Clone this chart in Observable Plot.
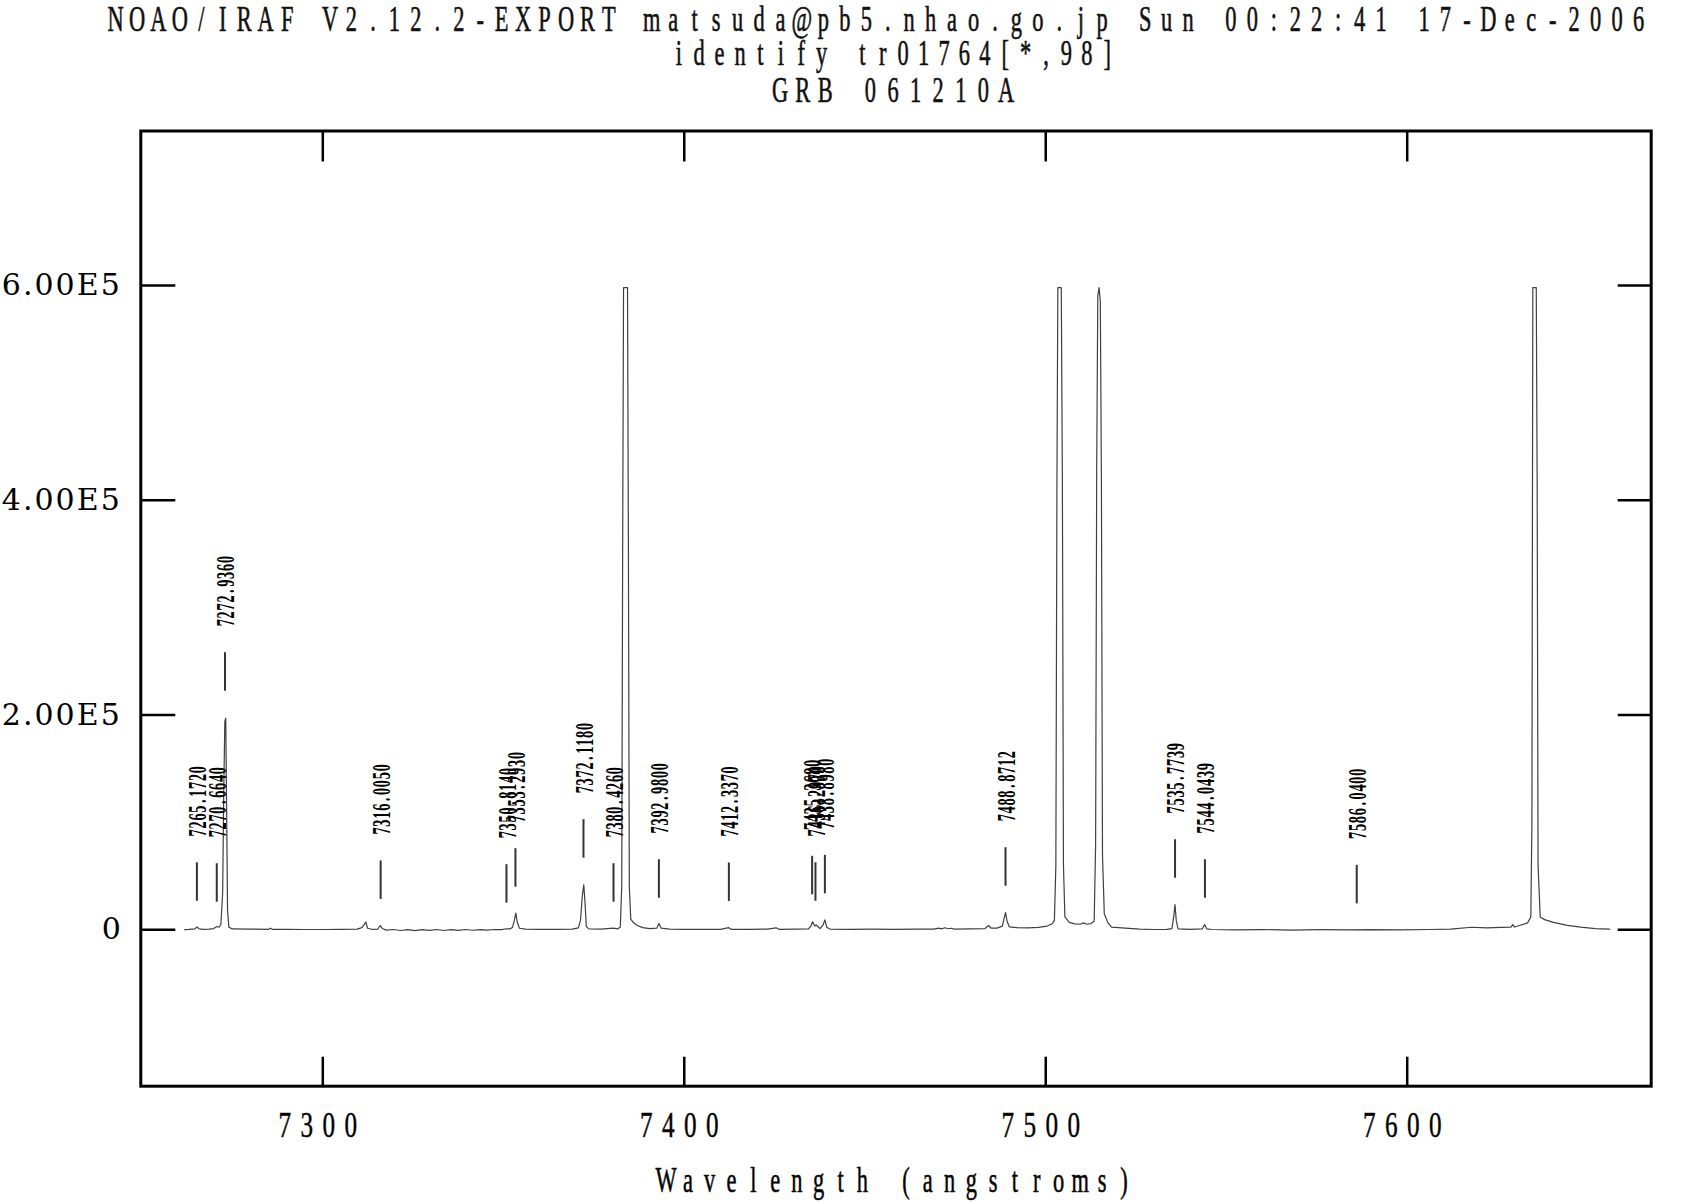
<!DOCTYPE html>
<html><head><meta charset="utf-8">
<script src="https://cdn.jsdelivr.net/npm/d3@7"></script>
<script src="https://cdn.jsdelivr.net/npm/@observablehq/plot@0.6"></script>
<style>
html,body{margin:0;padding:0;background:#fff;overflow:hidden;}
svg{display:block;}
</style></head><body>
<svg id="title" width="1682" height="120"></svg>
<div id="chart"></div>
<script>
// ---- text ----
const titleLines = [
  "NOAO/IRAF V2.12.2-EXPORT matsuda@pb5.nhao.go.jp Sun 00:22:41 17-Dec-2006",
  "identify tr01764[*,98]",
  "GRB 061210A"
];
const xLabel = "Wavelength (angstroms)";
const xTicks = [7300, 7400, 7500, 7600];
const xTickLabels = ["7300", "7400", "7500", "7600"];
const yTicks = [0, 200000, 400000, 600000];
const yTickLabels = ["0", "2.00E5", "4.00E5", "6.00E5"];

// ---- spectrum (wavelength in angstroms, counts) ----
const specW = [7261.8,7263.0,7264.6,7265.2,7265.8,7267.0,7268.5,7269.8,7270.7,7271.3,7271.8,7272.3,7272.6,7272.9,7273.15,7273.4,7273.65,7274.0,7275.0,7280.0,7285.0,7285.5,7286.0,7290.0,7295.0,7300.0,
7305.0,7309.5,7310.8,7311.6,7311.9,7312.4,7313.5,7315.2,7315.9,7316.5,7317.5,7319.5,7321.5,7323.5,7325.5,7327.5,7329.5,7331.5,7333.5,7335.5,7337.5,7339.5,7341.5,7343.5,7345.5,7347.5,7349.5,
7350.8,7351.8,7352.5,7353.0,7353.4,7353.8,7354.4,7356.0,7360.0,7365.0,7369.0,7370.7,7371.3,7371.8,7372.2,7372.6,7372.9,7373.6,7377.0,7380.4,7381.5,7382.3,7382.7,7382.95,7383.2,7384.3,7384.55,7384.8,7385.2,7386.0,7387.0,7388.5,7390.5,7392.4,7393.0,7393.6,7396.0,
7400.0,7405.0,7410.0,7412.3,7413.0,7418.0,7423.0,7425.4,7426.2,7431.0,7434.4,7435.1,7435.5,7436.1,7436.5,7437.6,7438.4,7438.9,7439.4,7440.3,7446.0,7452.0,7458.0,7464.0,7469.0,7470.4,7471.2,7472.1,7473.0,7473.8,7474.7,7479.0,7483.2,7484.2,7484.9,7486.5,7488.0,7488.5,7488.9,7489.3,7489.9,7492.0,7495.0,7498.0,
7500.4,7501.8,7502.4,7502.8,7503.1,7503.35,7504.3,7504.6,7504.9,7505.3,7506.5,7508.0,7509.5,7510.5,7511.2,7512.5,7513.4,7513.8,7514.1,7514.4,7514.75,7515.1,7515.4,7515.7,7516.2,7517.2,7518.2,7522.0,7526.0,7530.0,7533.5,7534.9,7535.4,7535.75,7536.1,7536.6,7540.0,7543.3,7543.95,7544.5,7546.0,7552.0,7560.0,7568.0,7576.0,7584.0,7590.0,7598.0,
7606.0,7612.0,7617.8,7622.0,7626.0,7628.7,7629.2,7629.7,7631.5,7633.3,7634.2,7634.5,7634.75,7635.7,7635.95,7636.2,7636.8,7638.0,7640.5,7644.3,7648.0,7652.0,7656.0];
const specF = [200,400,900,2700,900,400,700,1200,3100,2400,5000,35000,130000,194000,197000,110000,18000,2500,800,600,500,1500,500,400,300,300,
400,700,2000,5500,7200,1500,500,600,4000,1200,-300,300,-600,200,-700,200,-500,300,-600,200,-500,300,-400,100,-300,300,200,
1000,800,2500,9000,15500,7000,1500,600,400,500,700,1800,9000,32000,42000,22000,3000,900,600,1500,900,2500,40000,350000,598000,598000,350000,40000,10000,6500,4000,2000,1200,1500,6000,1500,700,
500,400,500,2000,500,500,600,1900,500,600,900,4000,7500,3500,4500,1200,4500,9300,2500,700,500,600,500,600,700,1600,900,1900,1000,1500,700,800,1200,4000,1500,1600,3500,11000,16000,8000,2800,2000,1900,2300,
3500,5600,9000,60000,420000,598000,598000,420000,60000,12000,7000,5600,5200,6500,5200,5800,8000,80000,430000,590000,598000,585000,420000,70000,15000,6500,2500,1500,700,300,500,1200,12000,23600,9000,800,400,800,4900,900,300,0,200,-200,100,-100,200,0,
300,600,2400,1800,2200,2600,4900,2600,4500,6500,12000,100000,598000,598000,420000,60000,12000,9500,7000,4200,2500,1200,600];

// ---- identified lines ----
const lineWaves = [7265.172,7270.664,7272.936,7316.005,7350.814,7353.293,7372.118,7380.426,7392.98,7412.337,7435.368,7436.297,7438.898,7488.8712,7535.7739,7544.0439,7586.04];
const lineLabels = ["7265.1720","7270.6640","7272.9360","7316.0050","7350.8140","7353.2930","7372.1180","7380.4260","7392.9800","7412.3370","7435.3680","7436.2970","7438.8980","7488.8712","7535.7739","7544.0439","7586.0400"];
const lineMarkBase = [26600,25700,222200,28300,24800,39700,66700,25700,29400,26400,32600,26600,33500,40600,48000,29400,24200];

const spectrum = specW.map((w, i) => ({w, f: specF[i]}));
const lines = lineWaves.map((w, i) => ({w, label: lineLabels[i], base: lineMarkBase[i]}));

// ---- layout ----
const W = 1682, H = 1082, mT = 10.5, mB = 116.3, mL = 140.3, mR = 31.3;
const fw = W - mL - mR, fh = H - mT - mB;
const TICK = 35850; // length of the identification marks in counts
const SERIF = "Liberation Serif";

const chart = Plot.plot({
  width: W, height: H,
  marginTop: mT, marginBottom: mB, marginLeft: mL, marginRight: mR,
  x: {domain: [7249.65, 7667.5]},
  y: {domain: [-145600, 743800]},
  style: {background: "white", color: "black", fontFamily: SERIF},
  marks: [
    Plot.line(spectrum, {x: "w", y: "f", stroke: "#404040", strokeWidth: 1.2}),
    Plot.ruleX(lines, {x: "w", y1: "base", y2: d => d.base + TICK, stroke: "#333", strokeWidth: 2}),
    Plot.text(lines, {x: "w", y: d => d.base + TICK, text: "label", rotate: -90, textAnchor: "start",
      dy: -26, dx: 1, fontSize: 26, fontWeight: "bold", fontFamily: SERIF, fill: "black"}),
    Plot.tickX(xTicks, {x: d => d, insetTop: fh - 29, stroke: "black", strokeWidth: 2.5}),
    Plot.tickX(xTicks, {x: d => d, insetBottom: fh - 31, stroke: "black", strokeWidth: 2.5}),
    Plot.tickY(yTicks, {y: d => d, insetRight: fw - 35, stroke: "black", strokeWidth: 2.5}),
    Plot.tickY(yTicks, {y: d => d, insetLeft: fw - 33, stroke: "black", strokeWidth: 2.5}),
    Plot.axisX({ticks: xTicks, tickFormat: d => xTickLabels[xTicks.indexOf(d)], tickSize: 0, tickPadding: 26,
      fontSize: 35, fontFamily: SERIF, label: null}),
    Plot.axisY({ticks: yTicks, tickFormat: d => yTickLabels[yTicks.indexOf(d)], tickSize: 0, tickPadding: 19,
      fontSize: 30, fontFamily: "DejaVu Serif", label: null}),
    Plot.text([xLabel], {frameAnchor: "bottom", text: d => d, dy: 106, lineAnchor: "bottom",
      fontSize: 35, fontFamily: SERIF, fill: "black"}),
    Plot.frame({stroke: "black", strokeWidth: 3})
  ]
});
document.getElementById("chart").appendChild(chart);

// ---- IRAF-like lettering ----
// fixed-pitch cells: each glyph centred in its own cell, glyphs squeezed horizontally by sx
function fitMono(el, pitch, sx, anchor, off = 0, weight = 0) {
  el.style.letterSpacing = "0px";
  const n = el.textContent.length;
  const xa = el.getAttribute("x");
  const x0 = (xa !== null && /^\s*-?[\d.]+\s*$/.test(xa)) ? parseFloat(xa) : 0;
  const xs = [];
  for (let i = 0; i < n; i++) {
    let c;
    if (anchor === "start") c = x0 + off + (i + 0.5) * pitch;
    else if (anchor === "end") c = x0 + off - (n - i - 0.5) * pitch;
    else c = x0 + off + (i - (n - 1) / 2) * pitch;
    xs.push((c / sx).toFixed(2));
  }
  el.setAttribute("x", xs.join(" "));
  el.setAttribute("text-anchor", "middle");
  if (weight > 0) {
    el.setAttribute("stroke", "#111");
    el.setAttribute("stroke-width", weight);
  }
  const T = el.getAttribute("transform") || "";
  el.setAttribute("transform", (T + ` scale(${sx},1)`).trim());
}
// proportional text spread to a given width
function fit(el, target) {
  el.style.letterSpacing = "0px";
  const n = el.textContent.length;
  const nat = el.getComputedTextLength();
  el.style.letterSpacing = ((target - nat) / n) + "px";
}

// title
const tsvg = d3.select("#title");
const tPos = [[877, 30.5, 21.45], [893, 65.5, 20.4], [893, 102, 22.6]];
titleLines.forEach((s, i) => {
  const t = tsvg.append("text").attr("x", tPos[i][0]).attr("y", tPos[i][1])
    .attr("text-anchor", "middle").attr("font-family", SERIF).attr("font-size", 35)
    .attr("fill", "#111").text(s);
  fitMono(t.node(), tPos[i][2], 0.64, "middle", 0, 0.6);
});

const labelSet = new Set(lineLabels), xSet = new Set(xTickLabels), ySet = new Set(yTickLabels);
chart.querySelectorAll("text").forEach(t => {
  const s = t.textContent;
  if (labelSet.has(s)) fitMono(t, 7.9, 0.55, "start");
  else if (xSet.has(s)) fitMono(t, 22, 0.72, "middle", -5, 0.5);
  else if (ySet.has(s)) fit(t, s.length * 20);
  else if (s === xLabel) fitMono(t, 21.8, 0.64, "middle", -1, 0.6);
});
</script>
</body></html>
